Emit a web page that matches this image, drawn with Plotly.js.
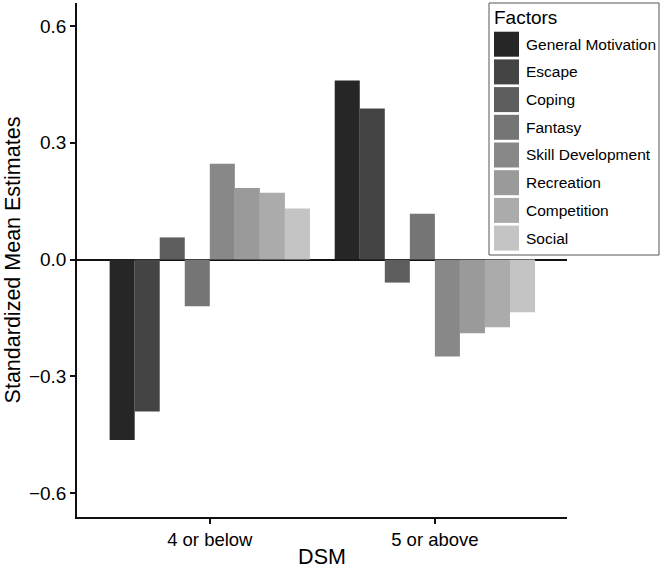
<!DOCTYPE html>
<html>
<head>
<meta charset="utf-8">
<script src="https://cdn.plot.ly/plotly-3.0.1.min.js"></script>
<style>
  html, body { margin: 0; padding: 0; background: #fff; }
  #chart { width: 660px; height: 569px; }
</style>
</head>
<body>
<div id="chart"></div>
<script>
// Categories on the x axis
const dsmGroups = ['4 or below', '5 or above'];

// Factor names (legend order) and their grey fills
const factorNames = ['General Motivation', 'Escape', 'Coping', 'Fantasy',
                     'Skill Development', 'Recreation', 'Competition', 'Social'];
const factorColors = ['#262626', '#444444', '#5e5e5e', '#757575',
                      '#888888', '#9a9a9a', '#ababab', '#c4c4c4'];

// Standardized mean estimates, one array per factor: [4 or below, 5 or above]
const generalMotivation = [-0.463, 0.460];
const escape            = [-0.390, 0.388];
const coping            = [0.057, -0.059];
const fantasy           = [-0.120, 0.118];
const skillDevelopment  = [0.246, -0.249];
const recreation        = [0.184, -0.189];
const competition       = [0.172, -0.174];
const social            = [0.131, -0.135];

const factorValues = [generalMotivation, escape, coping, fantasy,
                      skillDevelopment, recreation, competition, social];

const yTicks = [-0.6, -0.3, 0.0, 0.3, 0.6];

// Page geometry (pixels) of the plotting panel
const W = 660, H = 569;
const plotL = 77, plotR = 567, plotT = 3, plotB = 517;
const px = x => (x - plotL) / (plotR - plotL);
const py = y => (plotB - y) / (plotB - plotT);

const FONT = 'Liberation Sans, Arial, Helvetica, sans-serif';

const traces = factorNames.map((name, i) => ({
    type: 'bar',
    name: name,
    x: dsmGroups,
    y: factorValues[i],
    marker: { color: factorColors[i], line: { width: 0 } },
    showlegend: false,
    hoverinfo: 'x+y+name'
}));

// Hand-built legend box so the swatches match the big ggplot keys
const shapes = [{
    type: 'rect', xref: 'paper', yref: 'paper',
    x0: px(489), x1: px(659), y0: py(3), y1: py(255),
    line: { color: '#555', width: 1 }, fillcolor: '#fff', layer: 'above'
}];
const annotations = [{
    xref: 'paper', yref: 'paper', x: px(492), y: py(17),
    xanchor: 'left', yanchor: 'middle', showarrow: false,
    text: 'Factors', font: { family: FONT, size: 19, color: '#000' }
}];
factorNames.forEach((name, i) => {
    const top = 31.7 + i * 27.7;
    shapes.push({
        type: 'rect', xref: 'paper', yref: 'paper',
        x0: px(494), x1: px(519), y0: py(top), y1: py(top + 25),
        line: { width: 0 }, fillcolor: factorColors[i], layer: 'above'
    });
    annotations.push({
        xref: 'paper', yref: 'paper', x: px(524), y: py(top + 12.5),
        xanchor: 'left', yanchor: 'middle', showarrow: false,
        text: name, font: { family: FONT, size: 15.5, color: '#000' }
    });
});

const layout = {
    width: W,
    height: H,
    paper_bgcolor: '#fff',
    plot_bgcolor: '#fff',
    margin: { l: plotL, r: W - plotR, t: plotT, b: H - plotB },
    barmode: 'group',
    bargap: 0.11,
    bargroupgap: 0,
    showlegend: false,
    font: { family: FONT, color: '#000' },
    xaxis: {
        type: 'category',
        range: [-0.59, 1.587],
        showgrid: false,
        zeroline: false,
        showline: true,
        linecolor: '#111',
        linewidth: 1.5,
        ticks: 'outside',
        ticklen: 5,
        tickwidth: 1.5,
        tickcolor: '#111',
        tickfont: { family: FONT, size: 18.5, color: '#000' },
        title: { text: 'DSM', font: { family: FONT, size: 21.5, color: '#000' }, standoff: 1 }
    },
    yaxis: {
        range: [-0.661, 0.659],
        tickvals: yTicks,
        tickformat: '.1f',
        showgrid: false,
        zeroline: true,
        zerolinecolor: '#111',
        zerolinewidth: 1.5,
        showline: true,
        linecolor: '#111',
        linewidth: 1.5,
        ticks: 'outside',
        ticklen: 5,
        tickwidth: 1.5,
        tickcolor: '#111',
        tickfont: { family: FONT, size: 19, color: '#000' },
        title: { text: 'Standardized Mean Estimates', font: { family: FONT, size: 21.5, color: '#000' }, standoff: 2 }
    },
    shapes: shapes,
    annotations: annotations
};

Plotly.newPlot('chart', traces, layout, { displayModeBar: false, responsive: false });
</script>
</body>
</html>
